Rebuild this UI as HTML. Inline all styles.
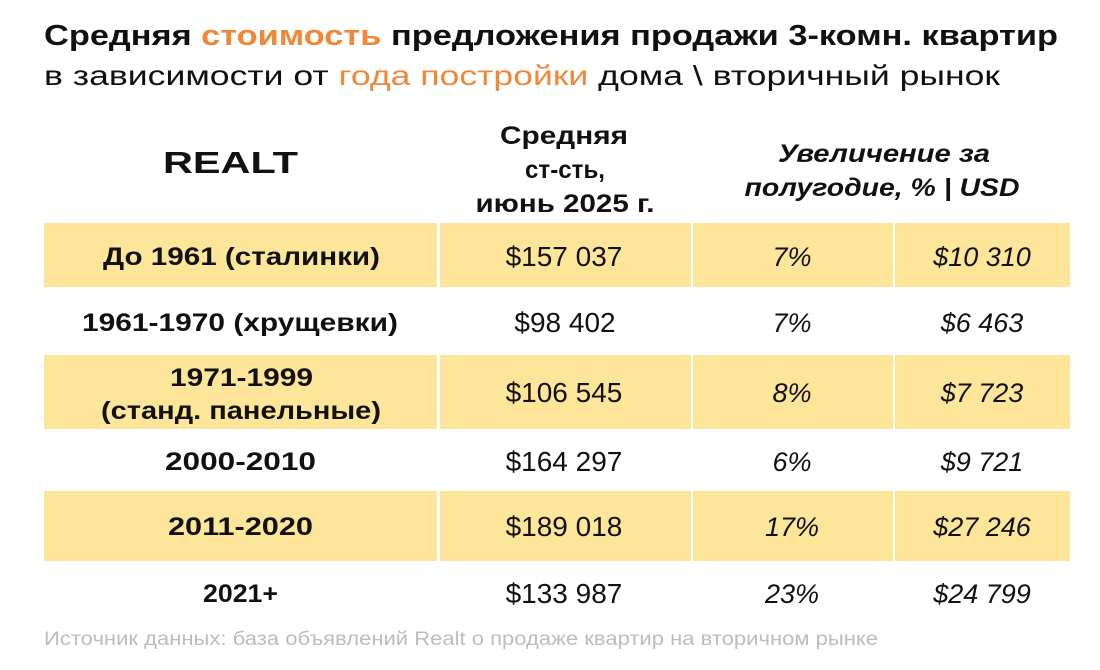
<!DOCTYPE html>
<html><head><meta charset="utf-8"><style>
html,body{margin:0;padding:0;background:#fff;width:1100px;height:670px;overflow:hidden}
svg{display:block}
text{font-family:"Liberation Sans",sans-serif;fill:#111}
.b{font-weight:bold}
.i{font-style:italic}
</style></head><body>
<svg width="1100" height="670" viewBox="0 0 1100 670">
<text x="44" y="45" font-size="29" class="b" textLength="1014" lengthAdjust="spacingAndGlyphs">Средняя <tspan style="fill:#F0883A">стоимость</tspan> предложения продажи 3-комн. квартир</text>
<text x="44" y="85" font-size="28" textLength="956" lengthAdjust="spacingAndGlyphs">в зависимости от <tspan style="fill:#F0883A">года постройки</tspan> дома \ вторичный рынок</text>

<text x="163" y="173" font-size="31" class="b" textLength="135" lengthAdjust="spacingAndGlyphs" style="font-weight:900">REALT</text>

<g class="b" font-size="25" text-anchor="middle" lengthAdjust="spacingAndGlyphs">
<text x="564" y="144" textLength="128" lengthAdjust="spacingAndGlyphs">Средняя</text>
<text x="565" y="178" textLength="80" lengthAdjust="spacingAndGlyphs">ст-сть,</text>
<text x="565" y="212" textLength="179" lengthAdjust="spacingAndGlyphs">июнь 2025 г.</text>
<text x="884" y="162" class="i b" textLength="212" lengthAdjust="spacingAndGlyphs">Увеличение за</text>
<text x="882" y="196" class="i b" textLength="275" lengthAdjust="spacingAndGlyphs">полугодие, % | USD</text>
</g>

<g fill="#FDE59A">
<rect x="44" y="223" width="393" height="64"/><rect x="440" y="223" width="251" height="64"/><rect x="693" y="223" width="200" height="64"/><rect x="895" y="223" width="175" height="64"/>
<rect x="44" y="355" width="393" height="74"/><rect x="440" y="355" width="251" height="74"/><rect x="693" y="355" width="200" height="74"/><rect x="895" y="355" width="175" height="74"/>
<rect x="44" y="491" width="393" height="70"/><rect x="440" y="491" width="251" height="70"/><rect x="693" y="491" width="200" height="70"/><rect x="895" y="491" width="175" height="70"/>
</g>

<g class="b" font-size="25">
<text x="103" y="265" textLength="277" lengthAdjust="spacingAndGlyphs">До 1961 (сталинки)</text>
<text x="82" y="331" textLength="316" lengthAdjust="spacingAndGlyphs">1961-1970 (хрущевки)</text>
<text x="170" y="386" textLength="143" lengthAdjust="spacingAndGlyphs">1971-1999</text>
<text x="101" y="419" textLength="280" lengthAdjust="spacingAndGlyphs">(станд. панельные)</text>
<text x="165" y="470" textLength="151" lengthAdjust="spacingAndGlyphs">2000-2010</text>
<text x="168" y="535" textLength="145" lengthAdjust="spacingAndGlyphs">2011-2020</text>
<text x="203" y="602" textLength="75" lengthAdjust="spacingAndGlyphs">2021+</text>
</g>
<g font-size="28" text-anchor="middle">
<text x="564" y="266">$157 037</text>
<text x="565" y="332">$98 402</text>
<text x="564" y="402">$106 545</text>
<text x="564" y="471">$164 297</text>
<text x="564" y="536">$189 018</text>
<text x="564" y="603">$133 987</text>
</g>
<g font-size="27" text-anchor="middle" class="i">
<text x="792" y="266">7%</text><text x="982" y="266">$10 310</text>
<text x="792" y="332">7%</text><text x="982" y="332">$6 463</text>
<text x="792" y="402">8%</text><text x="982" y="402">$7 723</text>
<text x="792" y="471">6%</text><text x="982" y="471">$9 721</text>
<text x="792" y="536">17%</text><text x="982" y="536">$27 246</text>
<text x="792" y="603">23%</text><text x="982" y="603">$24 799</text>
</g>
<text x="44" y="645" font-size="19" style="fill:#BDBDBD" textLength="834" lengthAdjust="spacingAndGlyphs">Источник данных: база объявлений Realt о продаже квартир на вторичном рынке</text>
</svg>
</body></html>
